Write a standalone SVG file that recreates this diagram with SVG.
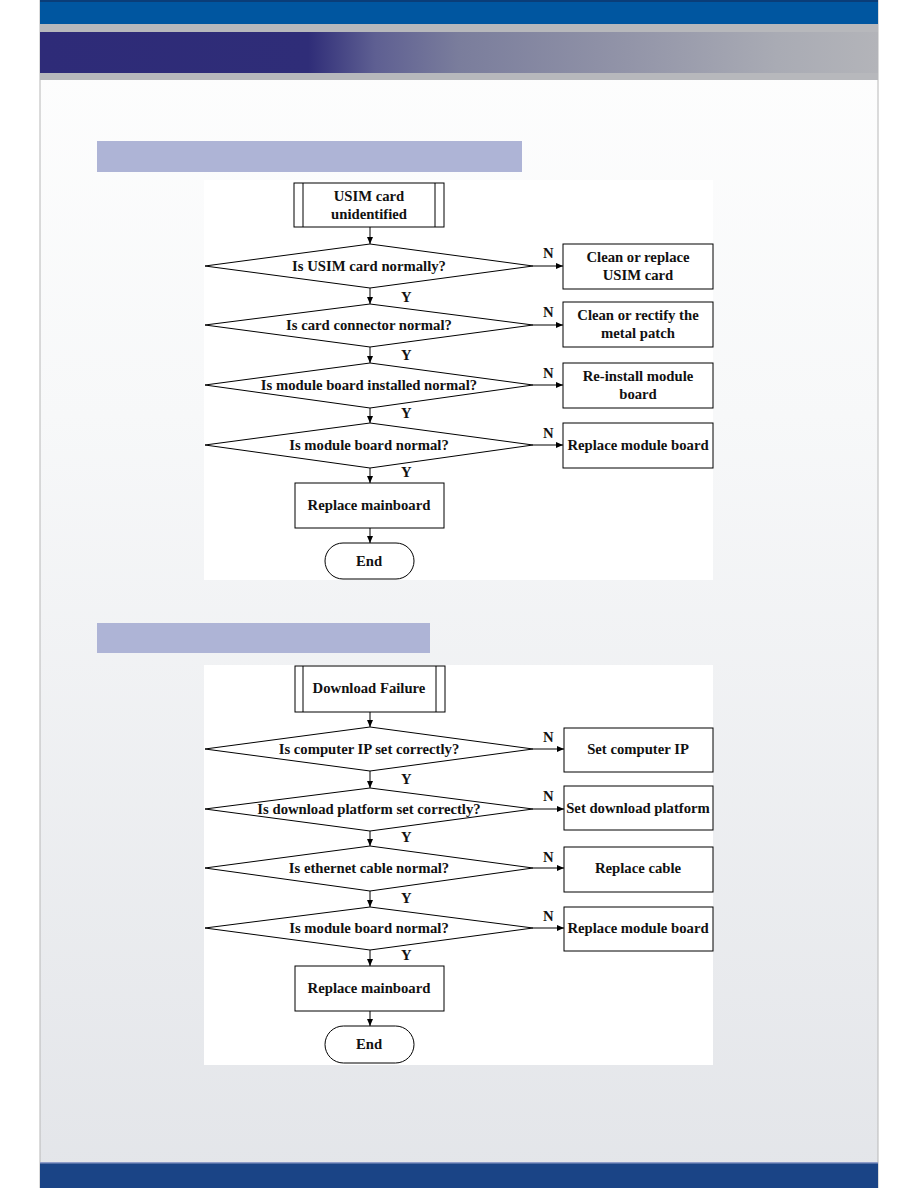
<svg xmlns="http://www.w3.org/2000/svg" width="918" height="1188" viewBox="0 0 918 1188">
<defs>
<linearGradient id="band" x1="0" y1="0" x2="1" y2="0">
<stop offset="0" stop-color="#2e2b78"/>
<stop offset="0.32" stop-color="#2f2d78"/>
<stop offset="0.40" stop-color="#5e5f92"/>
<stop offset="0.50" stop-color="#7a7d9c"/>
<stop offset="0.70" stop-color="#9294a8"/>
<stop offset="0.88" stop-color="#a9abb4"/>
<stop offset="1" stop-color="#b3b4b9"/>
</linearGradient>
<linearGradient id="page" x1="0" y1="0" x2="0" y2="1">
<stop offset="0" stop-color="#fefefe"/>
<stop offset="0.35" stop-color="#f7f8f9"/>
<stop offset="1" stop-color="#e3e5e9"/>
</linearGradient>
<marker id="ah" markerWidth="8" markerHeight="6" refX="7" refY="3" orient="auto" markerUnits="userSpaceOnUse">
<path d="M0,0 L7,3 L0,6 Z" fill="#000"/>
</marker>
<style>
.n{fill:#fff;stroke:#000;stroke-width:1}
.t{font-family:"Liberation Serif","Times New Roman",serif;font-weight:bold;font-size:14.7px;fill:#111;text-anchor:middle}
.l{font-family:"Liberation Serif","Times New Roman",serif;font-weight:bold;font-size:14.7px;fill:#111}
.c{stroke:#000;stroke-width:1;fill:none;marker-end:url(#ah)}
</style>
</defs>
<rect x="0" y="0" width="918" height="1188" fill="#fff"/>
<rect x="40" y="0" width="838" height="1188" fill="url(#page)" stroke="#b8b8b8" stroke-width="1"/>
<rect x="40" y="0" width="838" height="24" fill="#0056a0"/>
<rect x="40" y="0" width="838" height="2" fill="#0a3d78"/>
<rect x="40" y="24" width="838" height="56" fill="#b7b8bc"/>
<rect x="40" y="32" width="838" height="41" fill="url(#band)"/>
<rect x="40" y="1162" width="838" height="26" fill="#1a4486"/>
<rect x="40" y="1162" width="838" height="1.5" fill="#8e9cc8"/>

<rect x="97" y="141" width="425" height="31" fill="#aeb4d6"/>
<rect x="97" y="623" width="333" height="30" fill="#aeb4d6"/>

<rect x="204" y="180" width="509" height="400" fill="#fff"/>
<rect x="204" y="665" width="509" height="400" fill="#fff"/>

<g id="connectors">
<path class="c" d="M370,227 V244"/>
<path class="c" d="M370,288 V304"/>
<path class="c" d="M370,347 V363"/>
<path class="c" d="M370,408 V423"/>
<path class="c" d="M370,468 V483"/>
<path class="c" d="M370,528 V543"/>
<path class="c" d="M533,266 H563"/>
<path class="c" d="M533,325 H563"/>
<path class="c" d="M533,385 H563"/>
<path class="c" d="M533,445 H563"/>
<text class="l" x="543" y="258">N</text>
<text class="l" x="543" y="317">N</text>
<text class="l" x="543" y="378">N</text>
<text class="l" x="543" y="438">N</text>
<text class="l" x="401" y="302">Y</text>
<text class="l" x="401" y="360">Y</text>
<text class="l" x="401" y="418">Y</text>
<text class="l" x="401" y="477">Y</text>

<path class="c" d="M370,712 V727"/>
<path class="c" d="M370,771 V788"/>
<path class="c" d="M370,831 V846"/>
<path class="c" d="M370,891 V907"/>
<path class="c" d="M370,950 V966"/>
<path class="c" d="M370,1011 V1026"/>
<path class="c" d="M533,749 H564"/>
<path class="c" d="M533,809 H564"/>
<path class="c" d="M533,868 H564"/>
<path class="c" d="M533,928 H564"/>
<text class="l" x="543" y="742">N</text>
<text class="l" x="543" y="801">N</text>
<text class="l" x="543" y="862">N</text>
<text class="l" x="543" y="921">N</text>
<text class="l" x="401" y="784">Y</text>
<text class="l" x="401" y="842">Y</text>
<text class="l" x="401" y="903">Y</text>
<text class="l" x="401" y="960">Y</text>
</g>

<g id="start1">
<rect class="n" x="294" y="183" width="150" height="44"/>
<path d="M303,183 V227 M435,183 V227" stroke="#000" stroke-width="1"/>
<text class="t" x="369" y="201">USIM card</text>
<text class="t" x="369" y="219">unidentified</text>
</g>
<g id="d1a">
<polygon class="n" points="205,266 370,244 533,266 370,288"/>
<text class="t" x="369" y="271">Is USIM card normally?</text>
</g>
<g id="b1a">
<rect class="n" x="563" y="244" width="150" height="45"/>
<text class="t" x="638" y="262">Clean or replace</text>
<text class="t" x="638" y="280">USIM card</text>
</g>
<g id="d2a">
<polygon class="n" points="205,325 370,304 533,325 370,347"/>
<text class="t" x="369" y="330">Is card connector normal?</text>
</g>
<g id="b2a">
<rect class="n" x="563" y="302" width="150" height="45"/>
<text class="t" x="638" y="320">Clean or rectify the</text>
<text class="t" x="638" y="338">metal patch</text>
</g>
<g id="d3a">
<polygon class="n" points="205,385 370,363 533,385 370,408"/>
<text class="t" x="369" y="390">Is module board installed normal?</text>
</g>
<g id="b3a">
<rect class="n" x="563" y="363" width="150" height="45"/>
<text class="t" x="638" y="381">Re-install module</text>
<text class="t" x="638" y="399">board</text>
</g>
<g id="d4a">
<polygon class="n" points="205,445 370,423 533,445 370,468"/>
<text class="t" x="369" y="450">Is module board normal?</text>
</g>
<g id="b4a">
<rect class="n" x="563" y="423" width="150" height="45"/>
<text class="t" x="638" y="450">Replace module board</text>
</g>
<g id="main1">
<rect class="n" x="295" y="483" width="149" height="45"/>
<text class="t" x="369" y="510">Replace mainboard</text>
</g>
<g id="end1">
<rect class="n" x="325" y="543" width="89" height="36" rx="18" ry="18"/>
<text class="t" x="369" y="566">End</text>
</g>

<g id="start2">
<rect class="n" x="295" y="666" width="150" height="46"/>
<path d="M303,666 V712 M436,666 V712" stroke="#000" stroke-width="1"/>
<text class="t" x="369" y="693">Download Failure</text>
</g>
<g id="d1b">
<polygon class="n" points="205,749 370,727 533,749 370,771"/>
<text class="t" x="369" y="754">Is computer IP set correctly?</text>
</g>
<g id="b1b">
<rect class="n" x="564" y="728" width="149" height="44"/>
<text class="t" x="638" y="754">Set computer IP</text>
</g>
<g id="d2b">
<polygon class="n" points="205,809 370,788 533,809 370,831"/>
<text class="t" x="369" y="814">Is download platform set correctly?</text>
</g>
<g id="b2b">
<rect class="n" x="564" y="786" width="149" height="44"/>
<text class="t" x="638" y="813">Set download platform</text>
</g>
<g id="d3b">
<polygon class="n" points="205,868 370,846 533,868 370,891"/>
<text class="t" x="369" y="873">Is ethernet cable normal?</text>
</g>
<g id="b3b">
<rect class="n" x="564" y="847" width="149" height="45"/>
<text class="t" x="638" y="873">Replace cable</text>
</g>
<g id="d4b">
<polygon class="n" points="205,928 370,907 533,928 370,950"/>
<text class="t" x="369" y="933">Is module board normal?</text>
</g>
<g id="b4b">
<rect class="n" x="564" y="907" width="149" height="44"/>
<text class="t" x="638" y="933">Replace module board</text>
</g>
<g id="main2">
<rect class="n" x="295" y="966" width="149" height="45"/>
<text class="t" x="369" y="993">Replace mainboard</text>
</g>
<g id="end2">
<rect class="n" x="325" y="1026" width="89" height="37" rx="18.5" ry="18.5"/>
<text class="t" x="369" y="1049">End</text>
</g>
</svg>
